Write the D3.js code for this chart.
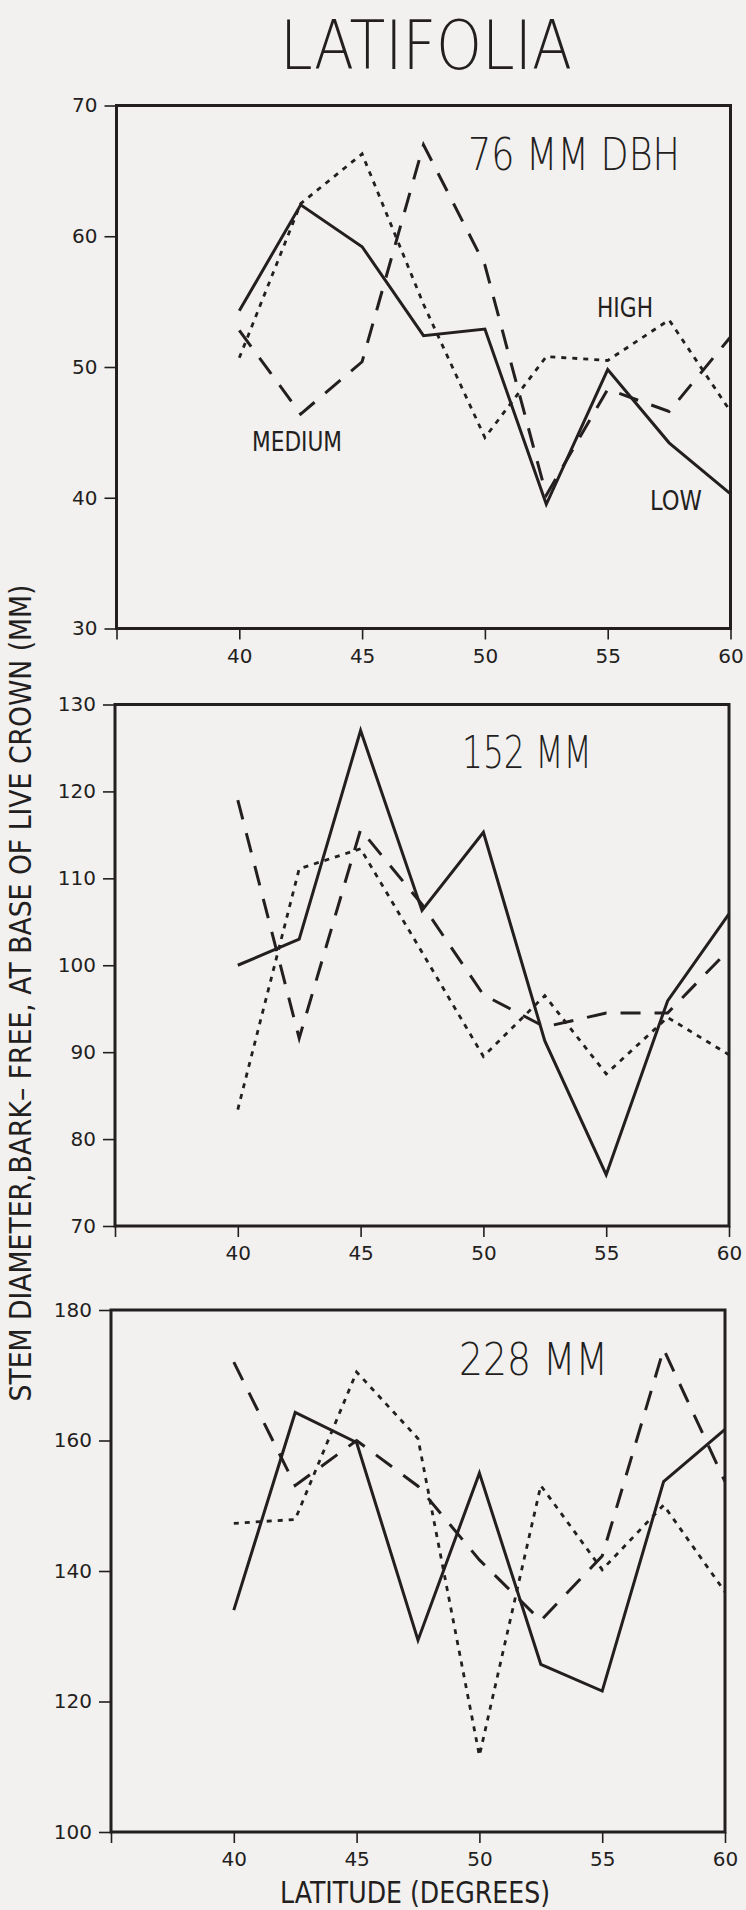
<!DOCTYPE html>
<html>
<head>
<meta charset="utf-8">
<script src="https://cdn.jsdelivr.net/npm/d3@7"></script>
<style>
  html, body { margin: 0; padding: 0; background: #f3f0f0; }
  svg { display: block; }
  text { font-family: "DejaVu Sans", sans-serif; fill: #231f20; }
</style>
</head>
<body>
<svg id="chart" width="746" height="1910"></svg>
<script>
// Latitude of each provenance group (degrees)
const latitudes = [40, 42.5, 45, 47.5, 50, 52.5, 55, 57.5, 60];

// Stem diameter (mm), bark-free, at base of live crown — 76 mm DBH trees
const dbh76Low    = [54.3, 62.4, 59.2, 52.4, 52.9, 39.5, 49.8, 44.2, 40.3];
const dbh76Medium = [52.8, 46.4, 50.4, 67.0, 57.8, 40.2, 48.3, 46.6, 52.3];
const dbh76High   = [50.7, 62.5, 66.3, 54.8, 44.6, 50.8, 50.5, 53.6, 46.6];

// 152 mm DBH trees
const dbh152Low    = [100.0, 103.0, 127.0, 106.3, 115.3, 91.3, 75.9, 95.9, 105.9];
const dbh152Medium = [119.0, 91.6, 115.6, 107.0, 96.6, 92.9, 94.5, 94.5, 101.8];
const dbh152High   = [83.4, 111.1, 113.4, 101.5, 89.5, 96.5, 87.5, 94.0, 89.7];

// 228 mm DBH trees
const dbh228Low    = [134.0, 164.3, 159.7, 129.4, 155.0, 125.7, 121.6, 153.7, 161.7];
const dbh228Medium = [172.0, 153.1, 160.0, 153.0, 141.7, 132.4, 142.3, 174.0, 153.7];
const dbh228High   = [147.3, 147.9, 170.5, 160.3, 111.7, 153.1, 140.2, 150.1, 136.8];

// Axis ticks
const xTicks = [35, 40, 45, 50, 55, 60];
const yTicks76 = [30, 40, 50, 60, 70];
const yTicks152 = [70, 80, 90, 100, 110, 120, 130];
const yTicks228 = [100, 120, 140, 160, 180];

// Text
const chartTitle = "LATIFOLIA";
const panelTitles = ["76 MM DBH", "152 MM", "228 MM"];
const yAxisTitle = "STEM DIAMETER,BARK\u2013  FREE,  AT BASE OF LIVE CROWN (MM)";
const xAxisTitle = "LATITUDE (DEGREES)";
const seriesNames = ["LOW", "MEDIUM", "HIGH"];

const ink = "#231f20";

// Stroke style per stand density class
const seriesStyle = {
  LOW:    { width: 3,   dash: null },
  MEDIUM: { width: 3,   dash: "20,14" },
  HIGH:   { width: 2.8, dash: "5,6" }
};

// Panel frames (pixels)
const panels = [
  { box: [116.5, 730.5, 105.5, 628.5], yTicks: yTicks76,
    series: [dbh76Low, dbh76Medium, dbh76High], title: panelTitles[0],
    titlePos: [468, 170, 212] },
  { box: [115, 729, 704.5, 1226], yTicks: yTicks152,
    series: [dbh152Low, dbh152Medium, dbh152High], title: panelTitles[1],
    titlePos: [462, 768, 130] },
  { box: [111, 725, 1310, 1832], yTicks: yTicks228,
    series: [dbh228Low, dbh228Medium, dbh228High], title: panelTitles[2],
    titlePos: [459, 1375, 149] }
];

const svg = d3.select("#chart");

// Main title
svg.append("text")
  .attr("x", 280).attr("y", 69)
  .attr("font-size", 68).attr("font-weight", 200)
  .attr("textLength", 292).attr("lengthAdjust", "spacingAndGlyphs")
  .text(chartTitle);

// Shared y-axis title
svg.append("text")
  .attr("transform", "translate(31,993) rotate(-90)")
  .attr("text-anchor", "middle")
  .attr("font-size", 30)
  .attr("textLength", 817).attr("lengthAdjust", "spacingAndGlyphs")
  .text(yAxisTitle);

// x-axis title under the last panel
svg.append("text")
  .attr("x", 280).attr("y", 1903)
  .attr("font-size", 31)
  .attr("textLength", 270).attr("lengthAdjust", "spacingAndGlyphs")
  .text(xAxisTitle);

panels.forEach((p, i) => {
  const [left, right, top, bottom] = p.box;
  const yExtent = d3.extent(p.yTicks);

  const x = d3.scaleLinear().domain([35, 60]).range([left, right]);
  const y = d3.scaleLinear().domain(yExtent).range([bottom, top]);

  const g = svg.append("g");

  // y axis
  const yAxis = d3.axisLeft(y).tickValues(p.yTicks).tickSize(12).tickPadding(7)
    .tickFormat(d3.format("d"));
  const ya = g.append("g").attr("transform", `translate(${left},0)`).call(yAxis);

  // x axis (35 is ticked but not labelled)
  const xAxis = d3.axisBottom(x).tickValues(xTicks).tickSize(11).tickPadding(9)
    .tickFormat(d => d === 35 ? "" : d3.format("d")(d));
  const xa = g.append("g").attr("transform", `translate(0,${bottom})`).call(xAxis);

  [ya, xa].forEach(a => {
    a.select(".domain").remove();
    a.selectAll(".tick line").attr("stroke", ink).attr("stroke-width", 1.6);
    a.selectAll(".tick text").attr("fill", ink).attr("font-size", 20)
      .attr("font-family", "DejaVu Sans, sans-serif");
  });

  // Frame
  g.append("rect")
    .attr("x", left).attr("y", top)
    .attr("width", right - left).attr("height", bottom - top)
    .attr("fill", "none").attr("stroke", ink).attr("stroke-width", 3);

  // Series lines
  const line = d3.line()
    .x((d, k) => x(latitudes[k]))
    .y(d => y(d));

  p.series.forEach((vals, s) => {
    const st = seriesStyle[seriesNames[s]];
    g.append("path")
      .datum(vals)
      .attr("d", line)
      .attr("fill", "none")
      .attr("stroke", ink)
      .attr("stroke-width", st.width)
      .attr("stroke-linejoin", "miter")
      .attr("stroke-dasharray", st.dash);
  });

  // Panel title
  g.append("text")
    .attr("x", p.titlePos[0]).attr("y", p.titlePos[1])
    .attr("font-size", 44).attr("font-weight", 300)
    .attr("textLength", p.titlePos[2]).attr("lengthAdjust", "spacingAndGlyphs")
    .text(p.title);

  // Series labels on the first panel
  if (i === 0) {
    const labels = [
      { name: "HIGH",   x: 597, y: 317, w: 56 },
      { name: "MEDIUM", x: 252, y: 451, w: 90 },
      { name: "LOW",    x: 650, y: 510, w: 52 }
    ];
    labels.forEach(l => {
      g.append("text")
        .attr("x", l.x).attr("y", l.y)
        .attr("font-size", 27)
        .attr("textLength", l.w).attr("lengthAdjust", "spacingAndGlyphs")
        .text(l.name);
    });
  }
});
</script>
</body>
</html>
